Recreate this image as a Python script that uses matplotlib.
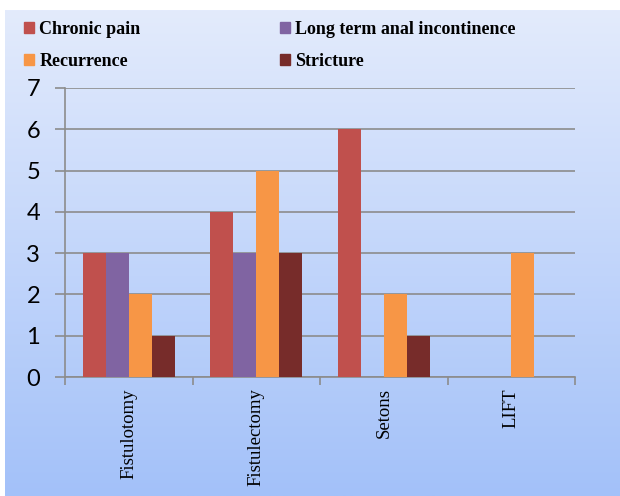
import matplotlib.pyplot as plt
from matplotlib.font_manager import FontProperties
import numpy as np

# Data
procedures = ['Fistulotomy', 'Fistulectomy', 'Setons', 'LIFT']
series_names = ['Chronic pain', 'Long term anal incontinence', 'Recurrence', 'Stricture']
chronic_pain = [3, 4, 6, 0]
incontinence = [3, 3, 0, 0]
recurrence = [2, 5, 2, 3]
stricture = [1, 3, 1, 0]

COLORS = ['#c0504d', '#8064a2', '#f79646', '#772c2a']
GRID_COLOR = '#8c8c8c'

fig = plt.figure(figsize=(6.2, 4.96), dpi=100)

# Gradient background panel
bg = fig.add_axes([5 / 620, 0, 615 / 620, 1 - 10 / 496], zorder=0)
grad = np.linspace(0, 1, 256).reshape(-1, 1)
top = np.array([227, 235, 252]) / 255
bottom = np.array([163, 193, 249]) / 255
img = top + (bottom - top) * grad[:, :, None]
bg.imshow(img, aspect='auto', extent=[0, 1, 0, 1])
bg.axis('off')

ax = fig.add_axes([65 / 620, 1 - 377 / 496, 510 / 620, 289 / 496], zorder=1)
ax.patch.set_alpha(0)

x = np.arange(len(procedures))
bar_width = 0.18
all_values = [chronic_pain, incontinence, recurrence, stricture]
for i, (name, vals) in enumerate(zip(series_names, all_values)):
    ax.bar(x + (i - 1.5) * bar_width, vals, bar_width, color=COLORS[i],
           label=name, zorder=3)

ax.set_xlim(-0.5, 3.5)
ax.set_ylim(0, 7)
ax.set_yticks(range(8))
ax.yaxis.grid(True, color=GRID_COLOR, linewidth=1.2, zorder=1)
ax.set_axisbelow(True)

for side in ['top', 'right']:
    ax.spines[side].set_visible(False)
for side in ['left', 'bottom']:
    ax.spines[side].set_color(GRID_COLOR)
    ax.spines[side].set_linewidth(1.2)

ax.tick_params(axis='y', length=7, width=1.2, color=GRID_COLOR, labelsize=17, pad=11)
for lbl in ax.get_yticklabels():
    lbl.set_fontfamily('Lato')

# category labels at centres, tick marks at boundaries
ax.set_xticks(x)
ax.set_xticklabels(procedures, rotation=90, fontsize=13.5, family='Liberation Serif', va='top')
ax.tick_params(axis='x', which='major', length=0, pad=8)
ax.set_xticks(np.arange(-0.5, 4, 1), minor=True)
ax.tick_params(axis='x', which='minor', length=6, width=1.2, color=GRID_COLOR)

handles = [plt.Rectangle((0, 0), 1, 1, color=c) for c in COLORS]
order = [0, 2, 1, 3]
legend_font = FontProperties(family='Liberation Serif', weight='bold', size=13)
fig.legend([handles[k] for k in order], [series_names[k] for k in order],
           ncol=2, loc='upper left', bbox_to_anchor=(24 / 620, 1 - 21 / 496),
           frameon=False, handlelength=0.55, handleheight=0.55, handletextpad=0.3,
           columnspacing=7.7, labelspacing=0.82, borderaxespad=0, borderpad=0,
           prop=legend_font)

plt.savefig('out.png', dpi=100)
